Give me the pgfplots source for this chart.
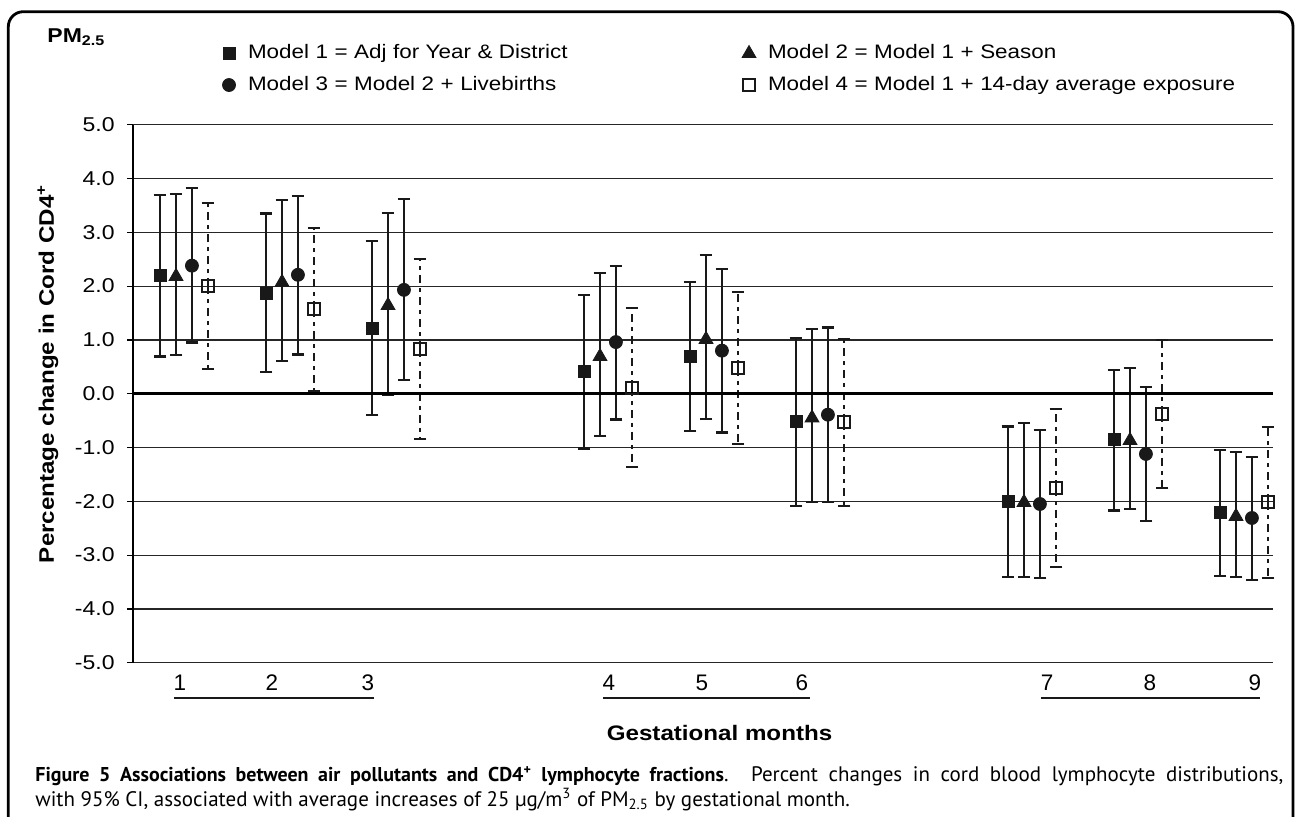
\documentclass[border=0pt]{standalone}
\usepackage{fontspec}
\usepackage{pgfplots}
\usepackage{pgfplotstable}
\pgfplotsset{compat=1.18}
\newfontfamily\chartfont{Liberation Sans}[FakeStretch=1.15]
\newfontfamily\monthfont{Liberation Sans}
\newfontfamily\capfont{PT Sans}

% x y lo hi   (Model 1: filled square)
\pgfplotstableread{
x y lo hi
0.774 2.19 0.69 3.69
1.774 1.86 0.40 3.35
2.774 1.21 -0.40 2.84
4.774 0.41 -1.02 1.84
5.774 0.69 -0.70 2.08
6.774 -0.52 -2.09 1.03
8.774 -2.01 -3.41 -0.61
9.774 -0.85 -2.17 0.44
10.774 -2.21 -3.39 -1.04
}\modelA
% Model 2: triangle
\pgfplotstableread{
x y lo hi
0.925 2.18 0.72 3.71
1.925 2.07 0.61 3.60
2.925 1.64 -0.02 3.36
4.925 0.69 -0.79 2.24
5.925 1.01 -0.47 2.58
6.925 -0.45 -2.02 1.20
8.925 -2.02 -3.41 -0.55
9.925 -0.87 -2.15 0.48
10.925 -2.28 -3.41 -1.08
}\modelB
% Model 3: circle
\pgfplotstableread{
x y lo hi
1.075 2.38 0.95 3.82
2.075 2.21 0.73 3.68
3.075 1.93 0.25 3.62
5.075 0.96 -0.48 2.38
6.075 0.80 -0.72 2.32
7.075 -0.39 -2.01 1.23
9.075 -2.05 -3.43 -0.68
10.075 -1.12 -2.37 0.13
11.075 -2.31 -3.47 -1.17
}\modelC
% Model 4: open square
\pgfplotstableread{
x y lo hi
1.226 2.00 0.46 3.54
2.226 1.57 0.04 3.08
3.226 0.84 -0.84 2.51
5.226 0.11 -1.36 1.60
6.226 0.48 -0.93 1.89
7.226 -0.53 -2.09 1.02
9.226 -1.75 -3.22 -0.29
10.226 -0.37 -1.75 1.00
11.226 -2.01 -3.43 -0.62
}\modelD

\begin{document}
\begin{tikzpicture}
\useasboundingbox (0,0) rectangle (647.5pt,408pt);
\fill[white] (0,0) rectangle (647.5pt,408pt);
\draw[line width=1.4pt, rounded corners=7.5pt] (4.15pt,-20pt) rectangle (646.5pt,402.15pt);
\begin{axis}[
  at={(66.5pt,76.65pt)}, anchor=south west,
  scale only axis, width=570pt, height=269pt,
  xmin=0.519, xmax=11.274, ymin=-5, ymax=5,
  clip=false,
  axis y line*=left, axis x line*=bottom,
  x axis line style={draw=none},
  axis line style={-, line width=0.65pt, black},
  ymajorgrids, major grid style={black!85, line width=0.6pt},
  ytick={-5,-4,...,5},
  yticklabels={-5.0,-4.0,-3.0,-2.0,-1.0,0.0,1.0,2.0,3.0,4.0,5.0},
  ytick style={black, line width=0.6pt},
  tick align=outside, major tick length=3pt,
  yticklabel style={font=\chartfont\fontsize{10}{12}\selectfont, inner sep=0pt, anchor=east, xshift=-6pt},
  xtick={0.962,1.830,2.736,5.009,5.887,6.830,9.142,10.113,11.104},
  xticklabels={1,2,3,4,5,6,7,8,9},
  xtick style={draw=none},
  xticklabel style={font=\monthfont\fontsize{11.25}{13}\selectfont, anchor=base, inner sep=0pt, yshift=-10.9pt},
  xlabel={Gestational months},
  xlabel style={font=\chartfont\bfseries\fontsize{10.5}{12}\selectfont, at={(axis description cs:0.5145,0)}, anchor=base, inner sep=0pt, yshift=-38.65pt},
  ylabel={Percentage change in Cord CD4\textsuperscript{+}},
  ylabel style={font=\chartfont\bfseries\fontsize{10.5}{12}\selectfont, at={(axis description cs:-0.0693,0.537)}, anchor=base, inner sep=0pt},
  legend columns=2,
  legend cell align=left,
  legend image code/.code={\path[draw=none,fill=none] (-3.5pt,-0.1pt) rectangle (3.5pt,0.1pt); \draw[#1] plot coordinates {(0pt,0pt)};},
  legend style={draw=none, fill=none, inner sep=0pt, outer sep=0pt, column sep=6pt, row sep=5.75pt,
    nodes={inner sep=0pt, text width=241pt, align=left, text height=7.5pt, text depth=2.5pt, font=\chartfont\fontsize{9.75}{11}\selectfont},
    at={(axis description cs:0.0781,1.1509)}, anchor=north west},
]
\addplot[black!90, only marks, mark=square*, mark size=3pt, mark options={solid, fill=black!90},
  error bars/.cd, y dir=both, y explicit,
  error bar style={line width=1.1pt, black!90, solid},
  error mark options={rotate=90, line width=1.1pt, mark size=3.2pt, black!90, solid}]
  table[x=x, y=y, y error plus expr=\thisrow{hi}-\thisrow{y}, y error minus expr=\thisrow{y}-\thisrow{lo}] {\modelA};
\addlegendentry{Model 1 = Adj for Year \& District}
\addplot[black!90, only marks, mark=triangle*, mark size=4pt, mark options={solid, fill=black!90},
  error bars/.cd, y dir=both, y explicit,
  error bar style={line width=1.1pt, black!90, solid},
  error mark options={rotate=90, line width=1.1pt, mark size=3.2pt, black!90, solid}]
  table[x=x, y=y, y error plus expr=\thisrow{hi}-\thisrow{y}, y error minus expr=\thisrow{y}-\thisrow{lo}] {\modelB};
\addlegendentry{Model 2 = Model 1 + Season}
\addplot[black!90, only marks, mark=*, mark size=3.25pt, mark options={solid, fill=black!90},
  error bars/.cd, y dir=both, y explicit,
  error bar style={line width=1.1pt, black!90, solid},
  error mark options={rotate=90, line width=1.1pt, mark size=3.2pt, black!90, solid}]
  table[x=x, y=y, y error plus expr=\thisrow{hi}-\thisrow{y}, y error minus expr=\thisrow{y}-\thisrow{lo}] {\modelC};
\addlegendentry{Model 3 = Model 2 + Livebirths}
\addplot[black!90, only marks, mark=square, mark size=3pt, mark options={solid, line width=1pt},
  error bars/.cd, y dir=both, y explicit,
  error bar style={line width=1.3pt, black!90, dash pattern=on 4pt off 2.5pt on 2pt off 2.5pt},
  error mark options={rotate=90, line width=1.1pt, mark size=3.2pt, black!90, solid}]
  table[x=x, y=y, y error plus expr=\thisrow{hi}-\thisrow{y}, y error minus expr=\thisrow{y}-\thisrow{lo}] {\modelD};
\addlegendentry{Model 4 = Model 1 + 14-day average exposure}
\addplot[black, line width=1.6pt, forget plot] coordinates {(0.519,0) (11.274,0)};
\draw[black!90, line width=1.4pt] (axis cs:0.906,-5.656) -- (axis cs:2.792,-5.656);
\draw[black!90, line width=1.4pt] (axis cs:4.953,-5.656) -- (axis cs:6.906,-5.656);
\draw[black!90, line width=1.4pt] (axis cs:9.085,-5.656) -- (axis cs:11.151,-5.656);
\node[anchor=base west, inner sep=0pt, font=\chartfont\bfseries\fontsize{10}{12}\selectfont] at (axis description cs:-0.0754,1.1519) {PM\textsubscript{2.5}};
\end{axis}
\node[anchor=base west, inner sep=0pt] at (17.5pt,17.15pt) {\parbox[t]{624pt}{\capfont\fontsize{10.5}{12.5}\selectfont {\fontsize{10}{12.5}\selectfont\textbf{Figure 5 Associations between air pollutants and CD4\textsuperscript{+} lymphocyte fractions}}. Percent changes in cord blood lymphocyte distributions,\linebreak with 95\% CI, associated with average increases of 25 µg/m\textsuperscript{3} of PM\textsubscript{2.5} by gestational month.}};
\end{tikzpicture}
\end{document}
